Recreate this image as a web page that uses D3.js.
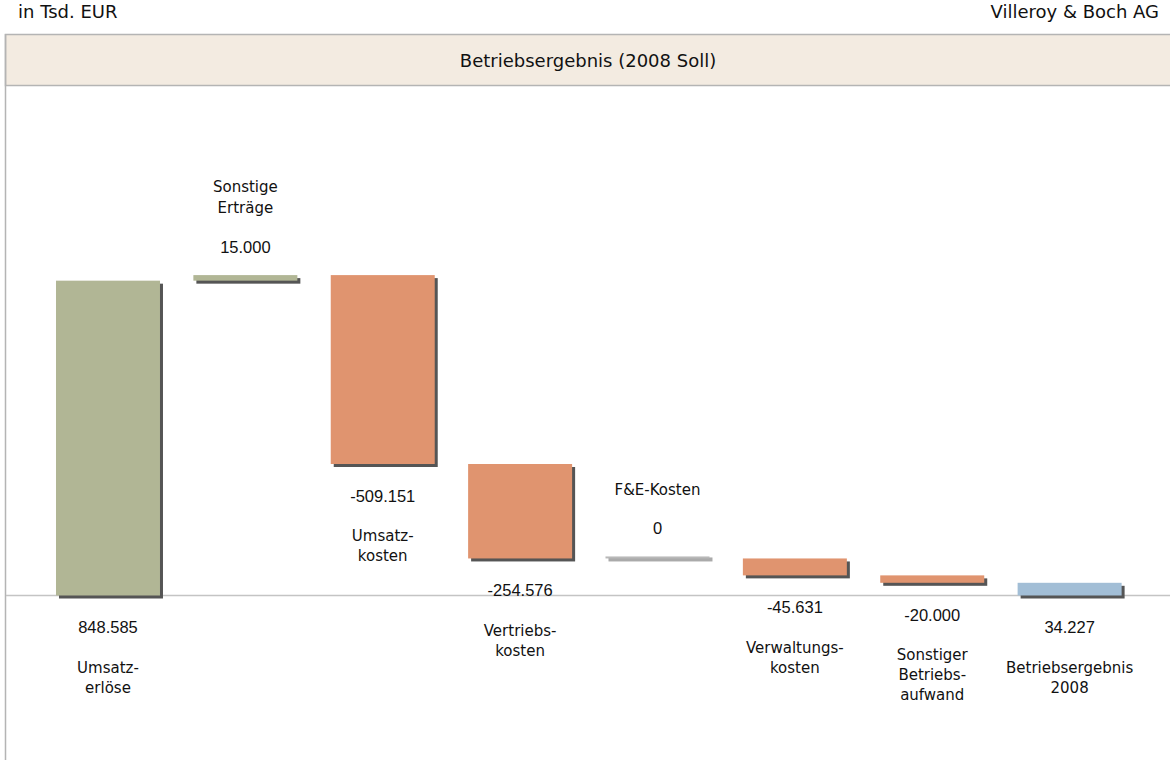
<!DOCTYPE html>
<html>
<head>
<meta charset="utf-8">
<script src="https://cdn.jsdelivr.net/npm/d3@7"></script>
<style>
  body { margin: 0; background: #fff; }
  .cat { font-family: "DejaVu Sans", Verdana, sans-serif; font-size: 15px; fill: #111; }
  .val { font-family: "Liberation Sans", Arial, sans-serif; font-size: 16.5px; fill: #111; }
  .hdr { font-family: "DejaVu Sans", Verdana, sans-serif; font-size: 18px; fill: #111; }
</style>
</head>
<body>
<div id="chart"></div>
<script>
// Werte in Tsd. EUR
var categories = ["Umsatzerlöse", "Sonstige Erträge", "Umsatzkosten", "Vertriebskosten",
                  "F&E-Kosten", "Verwaltungskosten", "Sonstiger Betriebsaufwand", "Betriebsergebnis 2008"];
var labelLines = [["Umsatz-", "erlöse"], ["Sonstige", "Erträge"], ["Umsatz-", "kosten"], ["Vertriebs-", "kosten"],
                  ["F&E-Kosten"], ["Verwaltungs-", "kosten"], ["Sonstiger", "Betriebs-", "aufwand"], ["Betriebsergebnis", "2008"]];
var values = [848585, 15000, -509151, -254576, 0, -45631, -20000, 34227];
var kinds = ["start", "delta", "delta", "delta", "delta", "delta", "delta", "total"];
var valueLabels = ["848.585", "15.000", "-509.151", "-254.576", "0", "-45.631", "-20.000", "34.227"];

function main() {
    var width = 1170,
      height = 760;

    var colors = { up: "#b1b695", down: "#e0946f", total: "#a2bed6", zero: "#b8b8b8" };

    // waterfall steps
    var run = 0;
    var data = categories.map(function (c, i) {
        var v = values[i], from, to;
        if (kinds[i] === "start") { from = 0; to = v; run = v; }
        else if (kinds[i] === "total") { from = 0; to = v; }
        else { from = run; to = run + v; run = to; }
        return { cat: c, lines: labelLines[i], value: v, kind: kinds[i], from: from, to: to, label: valueLabels[i] };
    });

    var x = d3.scaleBand().domain(categories).range([39.3, 1138.3]).paddingInner(0.243).paddingOuter(0.1215);
    var y = d3.scaleLinear().domain([0, 863585]).range([595.5, 275.1]);

    var svg = d3.select("#chart").append("svg").attr("width", width).attr("height", height);

    var defs = svg.append("defs");
    defs.append("filter").attr("id", "blur").attr("x", "-5%").attr("y", "-20%").attr("width", "110%").attr("height", "140%")
      .append("feGaussianBlur").attr("stdDeviation", 0.7);

    // header texts
    svg.append("text").attr("class", "hdr").attr("x", 18).attr("y", 12).attr("dy", "0.35em").text("in Tsd. EUR");
    svg.append("text").attr("class", "hdr").attr("x", 1159).attr("y", 12).attr("dy", "0.35em")
      .attr("text-anchor", "end").text("Villeroy & Boch AG");

    // frame
    svg.append("rect").attr("x", 5.5).attr("y", 34.5).attr("width", 1170).attr("height", 51)
      .attr("fill", "#f3ebe1").attr("stroke", "#b4b4b4").attr("stroke-width", 1.5);
    svg.append("line").attr("x1", 5.5).attr("x2", 5.5).attr("y1", 34).attr("y2", height)
      .attr("stroke", "#b4b4b4").attr("stroke-width", 1.5);
    svg.append("text").attr("class", "hdr").attr("x", 588).attr("y", 61).attr("dy", "0.35em")
      .attr("text-anchor", "middle").text("Betriebsergebnis (2008 Soll)");

    // baseline
    svg.append("line").attr("x1", 6).attr("x2", width).attr("y1", y(0)).attr("y2", y(0))
      .attr("stroke", "#c4c4c4").attr("stroke-width", 1.5);

    var g = svg.append("g").attr("class", "bars");

    function top(d) { return d.value === 0 ? y(d.to) - 2 : Math.min(y(d.from), y(d.to)); }
    function bottom(d) { return d.value === 0 ? y(d.to) : Math.max(y(d.from), y(d.to)); }
    function fillOf(d) {
        if (d.value === 0) return colors.zero;
        if (d.kind === "total") return colors.total;
        return d.value > 0 ? colors.up : colors.down;
    }

    // shadows
    g.selectAll(".shadow")
      .data(data)
    .enter().append("rect")
      .attr("class", "shadow")
      .attr("x", function (d) { return x(d.cat) + 3; })
      .attr("y", function (d) { return top(d) + (d.value === 0 ? 1 : 3); })
      .attr("width", x.bandwidth())
      .attr("height", function (d) { return bottom(d) - top(d) + (d.value === 0 ? 2 : 0); })
      .attr("fill", function (d) { return d.value === 0 ? "#aaa" : "#555"; })
      .attr("filter", "url(#blur)");

    g.selectAll(".bar")
      .data(data)
    .enter().append("rect")
      .attr("class", "bar")
      .attr("x", function (d) { return x(d.cat); })
      .attr("y", top)
      .attr("width", x.bandwidth())
      .attr("height", function (d) { return bottom(d) - top(d); })
      .attr("fill", fillOf);

    // labels: rising deltas above the bar, everything else below
    var lab = svg.append("g").attr("class", "labels");
    data.forEach(function (d) {
        var cx = x(d.cat) + x.bandwidth() / 2;
        var above = d.kind === "delta" && d.value >= 0;
        if (above) {
            var vy = top(d) - 28;
            lab.append("text").attr("class", "val").attr("x", cx).attr("y", vy).attr("dy", "0.35em")
              .attr("text-anchor", "middle").text(d.label);
            var n = d.lines.length;
            d.lines.forEach(function (l, k) {
                lab.append("text").attr("class", "cat").attr("x", cx).attr("y", vy - 39 - (n - 1 - k) * 21)
                  .attr("dy", "0.35em").attr("text-anchor", "middle").text(l);
            });
        } else {
            var vy2 = bottom(d) + 32;
            lab.append("text").attr("class", "val").attr("x", cx).attr("y", vy2).attr("dy", "0.35em")
              .attr("text-anchor", "middle").text(d.label);
            d.lines.forEach(function (l, k) {
                lab.append("text").attr("class", "cat").attr("x", cx).attr("y", vy2 + 40 + k * 20)
                  .attr("dy", "0.35em").attr("text-anchor", "middle").text(l);
            });
        }
    });
}

main();
</script>
</body>
</html>
